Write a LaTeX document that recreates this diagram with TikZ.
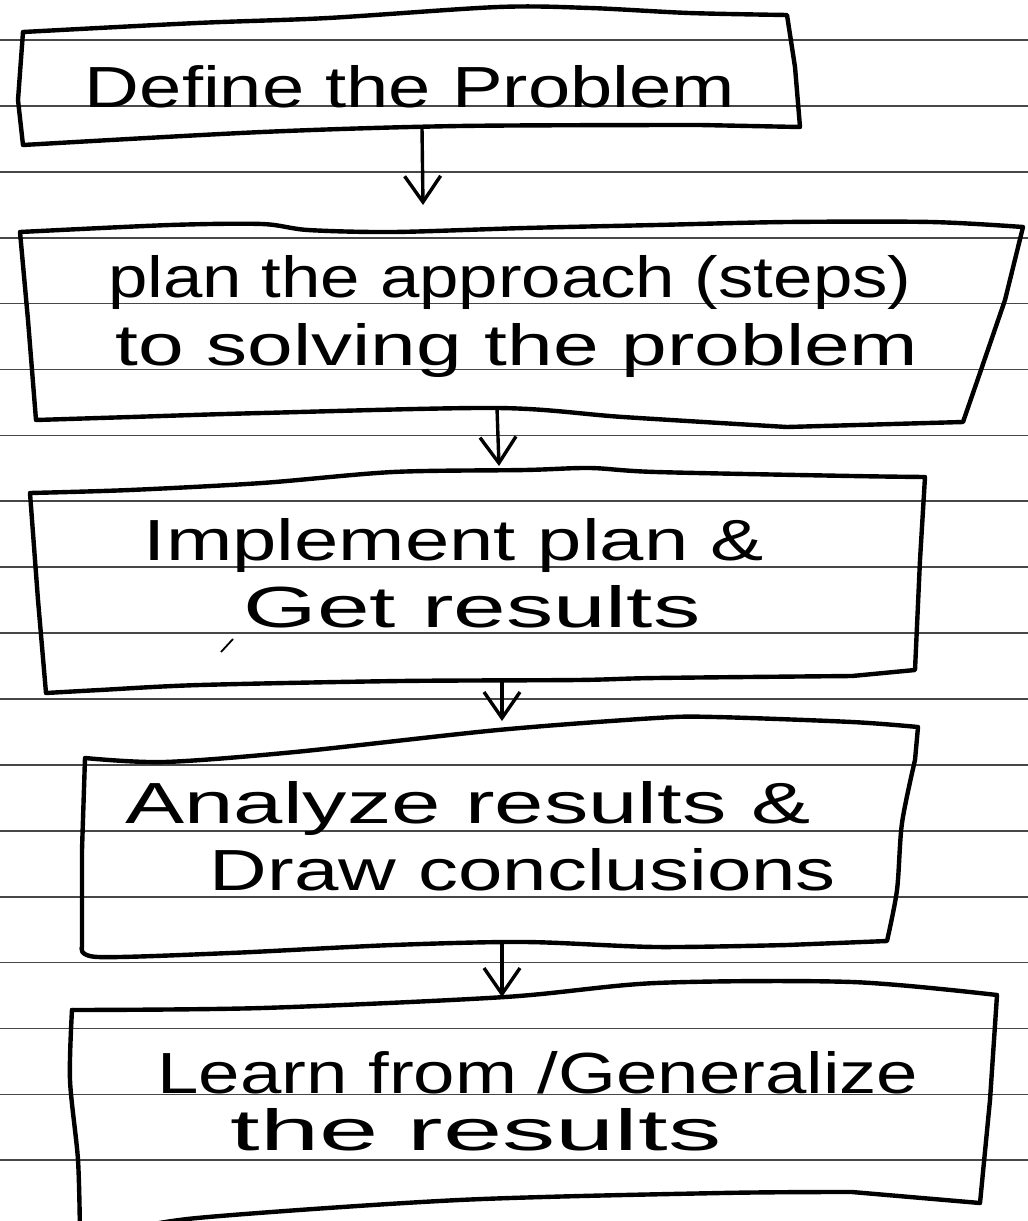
\documentclass[tikz,border=0pt]{standalone}
\usepackage{fontspec}
\setmainfont{Liberation Sans}
\usepackage{graphicx}
\usetikzlibrary{arrows.meta}
\newcommand{\hwline}[2]{\resizebox{#1}{\height}{#2}}
\tikzset{
  ruled/.style={draw=black!72, line width=1.7pt},
  boxline/.style={draw=black, line width=4.4pt, line join=round, line cap=round},
  flowarrow/.style={draw=black, line width=3.4pt, line cap=round, -{Straight Barb[length=26pt,width=36pt,line width=3.4pt]}},
  hw/.style={anchor=base, inner sep=0pt, font=\fontsize{58}{62}\selectfont},
}
\begin{document}
\begin{tikzpicture}[x=1pt,y=-1pt]
\useasboundingbox (0,0) rectangle (1028,1221);
\fill[white] (0,0) rectangle (1028,1221);
\clip (0,0) rectangle (1028,1221);
% ruled paper
\foreach \k in {0,...,17} {
  \draw[ruled] (0,{40+65.9*\k}) -- (1028,{40+65.9*\k});
}
% Box 1
\draw[boxline] plot[smooth,tension=0.5] coordinates {(23,32) (197,23) (328,18) (498,7) (590,8) (689,13) (787,15)}
  -- plot[smooth,tension=0.5] coordinates {(795,67) (800,127)}
  -- plot[smooth,tension=0.5] coordinates {(700,125) (459,126) (262,132) (23,145)}
  -- plot[smooth,tension=0.5] coordinates {(18,100) (23,32)};
\node[hw] (t1) at (410,107) {\hwline{650pt}{Define the Problem}};
% Box 2
\draw[boxline] plot[smooth,tension=0.5] coordinates {(20,232) (170,225) (262,224) (308,230) (393,232) (525,228) (656,225) (787,222) (931,222) (1023,227)}
  -- plot[smooth,tension=0.5] coordinates {(1005,300) (982,367) (963,422)}
  -- plot[smooth,tension=0.5] coordinates {(787,427) (623,417) (498,408) (262,413) (131,417) (36,420)}
  -- plot[smooth,tension=0.5] coordinates {(28,320) (20,232)};
\node[hw] (t2a) at (510,297) {\hwline{803pt}{plan the approach (steps)}};
\node[hw] (t2b) at (517,365) {\hwline{803pt}{to solving the problem}};
% Box 3
\draw[boxline] plot[smooth,tension=0.5] coordinates {(30,493) (130,490) (262,483) (393,472) (525,470) (590,468) (656,472) (852,476) (925,477)}
  -- plot[smooth,tension=0.5] coordinates {(920,560) (915,670)}
  -- plot[smooth,tension=0.5] coordinates {(852,676) (656,678) (577,680) (400,681) (200,685) (100,690) (46,693)}
  -- plot[smooth,tension=0.5] coordinates {(38,600) (30,493)};
\node[hw] (t3a) at (454,560) {\hwline{620pt}{Implement plan \&}};
\node[hw] (t3b) at (472,627) {\hwline{457pt}{Get results}};
\draw[line width=1.8pt] (221,652) -- (233,639);
% Box 4
\draw[boxline] plot[smooth,tension=0.5] coordinates {(85,758) (164,762) (295,752) (498,730) (656,718) (715,717) (852,722) (918,727)}
  -- plot[smooth,tension=0.5] coordinates {(915,760) (902,823) (897,890) (887,941)}
  -- plot[smooth,tension=0.5] coordinates {(787,945) (656,947) (525,942) (393,945) (230,953) (98,957) (82,947)}
  -- plot[smooth,tension=0.5] coordinates {(82,850) (85,758)};
\node[hw] (t4a) at (468,823) {\hwline{685pt}{Analyze results \&}};
\node[hw] (t4b) at (523,890) {\hwline{626pt}{Draw conclusions}};
% Box 5
\draw[boxline] plot[smooth,tension=0.5] coordinates {(72,1010) (262,1008) (505,997) (656,983) (852,982) (997,995)}
  -- plot[smooth,tension=0.5] coordinates {(990,1100) (980,1203)}
  -- plot[smooth,tension=0.5] coordinates {(852,1192) (721,1193) (459,1200) (197,1218) (120,1232)};
\draw[boxline] plot[smooth,tension=0.5] coordinates {(72,1010) (70,1080) (78,1160) (80,1235)};
\node[hw] (t5a) at (538,1093) {\hwline{761pt}{Learn from /Generalize}};
\node[hw] (t5b) at (476,1150) {\hwline{491pt}{the results}};
% connectors
\coordinate (b1s) at (422,128);
\coordinate (b2n) at (423,205);
\coordinate (b2s) at (497,408);
\coordinate (b3n) at (499,466);
\coordinate (b3s) at (502,680);
\coordinate (b4n) at (502,721);
\coordinate (b4s) at (502,942);
\coordinate (b5n) at (502,997);
\draw[flowarrow] (b1s) -- (b2n);
\draw[flowarrow] (b2s) -- (b3n);
\draw[flowarrow] (b3s) -- (b4n);
\draw[flowarrow] (b4s) -- (b5n);
\end{tikzpicture}
\end{document}
